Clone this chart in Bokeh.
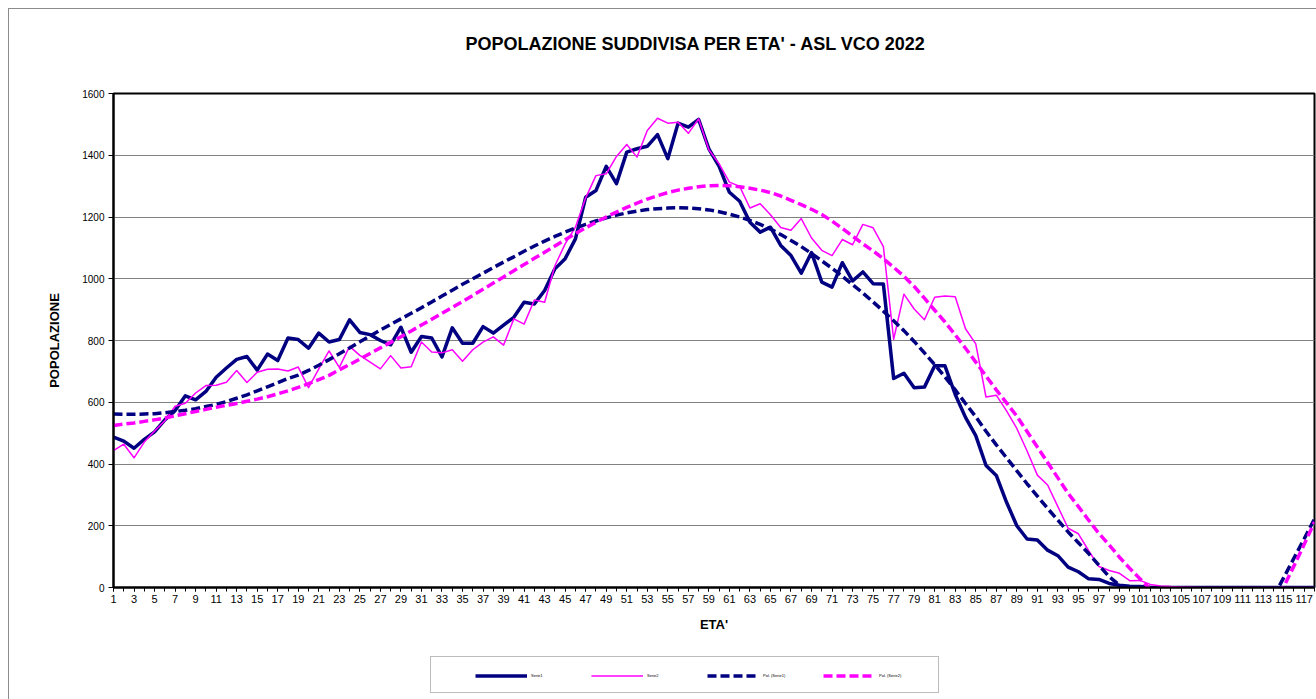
from bokeh.plotting import figure
from bokeh.layouts import column
from bokeh.models import Range1d, FixedTicker, Legend, LegendItem, Title
from bokeh.embed import file_html
from bokeh.resources import INLINE

NAN = float("nan")

ages = list(range(1, 119))

serie1 = [
    487, 474, 451, 480, 504, 543, 573, 621, 608, 635,
    681, 711, 739, 748, 704, 756, 735, 808, 803, 775,
    824, 795, 803, 867, 826, 819, 800, 786, 843, 762,
    813, 808, 747, 841, 791, 791, 845, 824, 850, 875,
    924, 918, 962, 1032, 1065, 1129, 1264, 1286, 1364, 1308,
    1410, 1421, 1429, 1467, 1389, 1504, 1491, 1516, 1421, 1364,
    1280, 1251, 1183, 1151, 1167, 1108, 1075, 1018, 1085, 989,
    973, 1052, 993, 1022, 984, 983, 677, 694, 647, 649,
    718, 718, 625, 551, 492, 395, 363, 276, 200, 157,
    154, 121, 103, 66, 51, 28, 26, 13, 7, 4,
    3, 1, 0, 0, 0, 0, 0, 0, 0, 0,
    0, 0, 0, 0, 0, 0, 0, 0,
]

serie2 = [
    443, 464, 420, 471, 507, 540, 587, 597, 630, 654,
    655, 665, 703, 664, 697, 707, 708, 701, 714, 647,
    708, 766, 713, 781, 752, 730, 708, 751, 711, 715,
    795, 763, 760, 770, 733, 770, 795, 812, 785, 870,
    853, 931, 924, 1042, 1113, 1167, 1262, 1334, 1340, 1396,
    1435, 1394, 1480, 1520, 1504, 1507, 1471, 1518, 1418, 1372,
    1313, 1299, 1229, 1243, 1207, 1166, 1157, 1195, 1132, 1092,
    1075, 1127, 1110, 1176, 1165, 1104, 804, 950, 902, 867,
    940, 944, 942, 838, 789, 617, 623, 572, 515, 442,
    364, 332, 262, 192, 174, 119, 68, 55, 46, 22,
    23, 10, 5, 3, 2, 1, 0, 0, 0, 0,
    0, 0, 0, 0, 0, 0, 0, 0,
]

# polynomial trend lines (hidden where below the axis)
pol_serie1 = [
    562, 561, 561, 562, 563, 566, 570, 574, 579, 586,
    593, 602, 613, 624, 637, 650, 663, 677, 688, 703,
    720, 738, 757, 776, 796, 815, 834, 852, 870, 888,
    906, 925, 944, 963, 982, 1000, 1018, 1036, 1054, 1071,
    1089, 1106, 1122, 1137, 1151, 1164, 1176, 1187, 1197, 1206,
    1213, 1219, 1224, 1227, 1229, 1230, 1229, 1227, 1223, 1217,
    1209, 1200, 1189, 1176, 1161, 1143, 1124, 1104, 1082, 1058,
    1034, 1008, 981, 954, 925, 895, 864, 832, 797, 760,
    722, 682, 640, 596, 553, 506, 462, 420, 378, 336,
    296, 256, 218, 180, 145, 110, 72, 35, 8, -15,
    NAN, NAN, NAN, NAN, NAN, NAN, NAN, NAN, NAN, NAN,
    NAN, NAN, NAN, -30, 32, 95, 158, 222,
]

pol_serie2 = [
    525, 529, 533, 538, 543, 549, 556, 563, 570, 577,
    584, 590, 596, 603, 610, 618, 627, 637, 648, 660,
    673, 687, 705, 722, 740, 758, 776, 794, 812, 831,
    850, 869, 888, 907, 926, 946, 966, 986, 1006, 1026,
    1046, 1066, 1086, 1106, 1126, 1146, 1165, 1183, 1200, 1216,
    1231, 1245, 1258, 1269, 1279, 1287, 1293, 1298, 1301, 1302,
    1301, 1298, 1293, 1287, 1279, 1268, 1254, 1240, 1225, 1208,
    1187, 1163, 1138, 1113, 1090, 1065, 1037, 1008, 975, 937,
    898, 860, 818, 775, 730, 685, 640, 598, 555, 505,
    455, 405, 355, 305, 262, 218, 175, 138, 98, 62,
    28, -5, NAN, NAN, NAN, NAN, NAN, NAN, NAN, NAN,
    NAN, NAN, NAN, -60, 2, 70, 140, 212,
]

series_names = ["Serie1", "Serie2", "Pol. (Serie1)", "Pol. (Serie2)"]
x_label_ticks = list(range(1, 118, 2))
x_minor_ticks = list(range(1, 119))
y_ticks = [0, 200, 400, 600, 800, 1000, 1200, 1400, 1600]
TITLE = "POPOLAZIONE  SUDDIVISA PER ETA' - ASL VCO 2022"

FONT = "Liberation Sans"
NAVY = "#000080"
MAGENTA = "#FF00FF"

# ---------------- main chart ----------------
p = figure(width=1307, height=636, output_backend="svg", toolbar_location=None,
           title=None,
           x_range=Range1d(1, 118), y_range=Range1d(0, 1600),
           min_border_left=104, min_border_right=2, min_border_top=84,
           min_border_bottom=58)

# spacer nearest the frame, then the real title above it
p.add_layout(Title(text=" ", text_font_size="1px", standoff=37), "above")
p.add_layout(Title(text=TITLE, align="left", offset=352, standoff=0,
                   text_font=FONT, text_font_size="18px", text_font_style="bold",
                   text_color="#000000"), "above")

p.outline_line_color = "#000000"
p.outline_line_width = 2
p.background_fill_color = "#ffffff"
p.border_fill_color = "#ffffff"

p.xaxis.ticker = FixedTicker(ticks=x_label_ticks, minor_ticks=x_minor_ticks)
p.yaxis.ticker = FixedTicker(ticks=y_ticks)
for ax in (p.xaxis[0], p.yaxis[0]):
    ax.axis_line_color = "#000000"
    ax.axis_line_width = 2
    ax.major_tick_line_color = "#000000"
    ax.major_tick_in = 0
    ax.major_tick_out = 4
    ax.minor_tick_in = 0
    ax.major_label_text_font = FONT
    ax.major_label_text_font_size = "10px"
    ax.major_label_text_color = "#000000"
    ax.axis_label_text_font = FONT
    ax.axis_label_text_font_size = "13px"
    ax.axis_label_text_font_style = "bold"
    ax.axis_label_text_color = "#000000"
p.xaxis.major_label_text_font_size = "11px"
p.xaxis.minor_tick_out = 4
p.xaxis.minor_tick_line_color = "#000000"
p.yaxis.minor_tick_line_color = None
p.yaxis.major_tick_out = 5
p.xaxis.major_label_standoff = 3
p.yaxis.major_label_standoff = 4
p.xaxis.axis_label = "ETA'"
p.yaxis.axis_label = "POPOLAZIONE"
p.xaxis.axis_label_standoff = 11
p.yaxis.axis_label_standoff = 17

p.xgrid.visible = False
p.ygrid.grid_line_color = "#808080"
p.ygrid.grid_line_width = 1

p.line(ages, serie1, line_color=NAVY, line_width=3.5, line_join="round")
p.line(ages, serie2, line_color=MAGENTA, line_width=1.5, line_join="round")
p.line(ages, pol_serie1, line_color=NAVY, line_width=3.5, line_dash="9 4")
p.line(ages, pol_serie2, line_color=MAGENTA, line_width=3.5, line_dash="9 4")

# ---------------- legend strip ----------------
lg = figure(width=1307, height=54, output_backend="svg", toolbar_location=None,
            title=None, x_range=Range1d(0, 1), y_range=Range1d(0, 1),
            x_axis_location=None, y_axis_location=None,
            min_border_left=0, min_border_right=0, min_border_top=0, min_border_bottom=0)
lg.grid.visible = False
lg.outline_line_color = None
lg.background_fill_color = "#ffffff"
lg.border_fill_color = "#ffffff"

# off-range stand-ins that only carry the key styles
hidden_x = [-10, -9]
hidden_y = [-10, -9]
box_r = lg.line(hidden_x, hidden_y, line_alpha=0)
k1 = lg.line(hidden_x, hidden_y, line_color=NAVY, line_width=3.5)
k2 = lg.line(hidden_x, hidden_y, line_color=MAGENTA, line_width=1.5)
k3 = lg.line(hidden_x, hidden_y, line_color=NAVY, line_width=3.5, line_dash="9 4")
k4 = lg.line(hidden_x, hidden_y, line_color=MAGENTA, line_width=3.5, line_dash="9 4")

frame_box = Legend(
    items=[LegendItem(label=" ", renderers=[box_r])],
    location=(317, 6), glyph_width=507, glyph_height=35, label_height=35,
    label_width=0, label_standoff=0, padding=0, margin=0,
    label_text_font_size="1px",
    border_line_color="#7a7a7a", border_line_width=1,
    background_fill_color="#ffffff", background_fill_alpha=1,
)
lg.add_layout(frame_box)

keys = Legend(
    items=[LegendItem(label=n, renderers=[r]) for n, r in zip(series_names, [k1, k2, k3, k4])],
    orientation="horizontal", location=(362, 16),
    glyph_width=52, glyph_height=15, label_height=15, label_width=50,
    label_standoff=4, spacing=10, padding=0, margin=0,
    label_text_font=FONT, label_text_font_size="4px", label_text_color="#000000",
    border_line_color=None, background_fill_alpha=0,
)
lg.add_layout(keys)

layout = column(p, lg, spacing=0,
                styles={"margin-left": "8px", "margin-top": "8px",
                        "border-left": "1px solid #8c8c8c",
                        "border-top": "1px solid #8c8c8c"})

open("out.html", "w").write(file_html(layout, INLINE))
